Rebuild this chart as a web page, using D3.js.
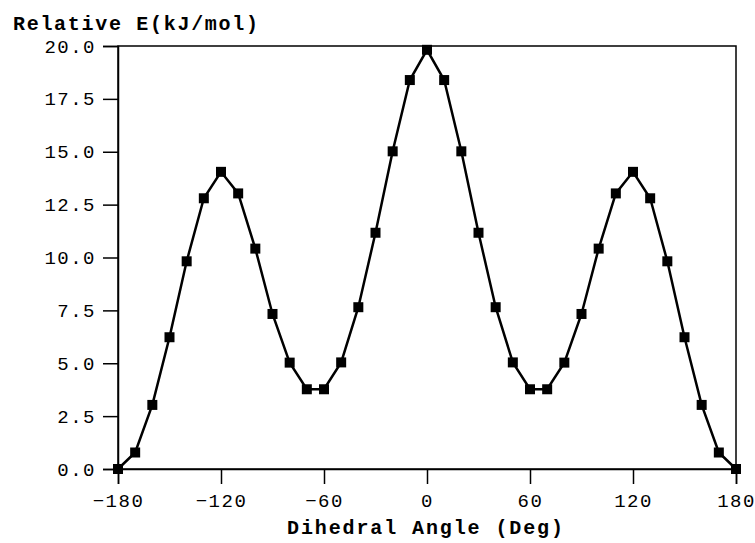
<!DOCTYPE html>
<html><head><meta charset="utf-8">
<script src="https://cdn.jsdelivr.net/npm/d3@7"></script>
<style>
html,body{margin:0;padding:0;background:#fff;}
svg{display:block;}
.tick text{font-family:"Liberation Mono","DejaVu Sans Mono",monospace;font-size:19px;letter-spacing:1.5px;fill:#000;}
</style></head>
<body>
<script>
const angles = [-180,-170,-160,-150,-140,-130,-120,-110,-100,-90,-80,-70,-60,-50,-40,-30,-20,-10,0,10,20,30,40,50,60,70,80,90,100,110,120,130,140,150,160,170,180];
const energies = [0.0,0.78,3.03,6.23,9.82,12.8,14.05,13.03,10.42,7.33,5.03,3.77,3.77,5.04,7.65,11.17,15.02,18.39,19.82,18.39,15.02,11.17,7.65,5.04,3.77,3.77,5.03,7.33,10.42,13.03,14.05,12.8,9.82,6.23,3.03,0.78,0.0];
const xTicks = [-180,-120,-60,0,60,120,180];
const yTicks = [0,2.5,5,7.5,10,12.5,15,17.5,20];
const yTitle = "Relative E(kJ/mol)";
const xTitle = "Dihedral Angle (Deg)";

const W = 755, H = 543;
const m = {left:118, right:19, top:46, bottom:74};
const svg = d3.select("body").append("svg").attr("width",W).attr("height",H);
const x = d3.scaleLinear().domain([-180,180]).range([m.left, W-m.right]);
const y = d3.scaleLinear().domain([0,20]).range([H-m.bottom, m.top]);

// frame
svg.append("rect").attr("x",x(-180)).attr("y",y(20)).attr("width",x(180)-x(-180)).attr("height",y(0)-y(20))
  .attr("fill","none").attr("stroke","#000").attr("stroke-width",1.5);

const gx = svg.append("g").attr("transform",`translate(0,${y(0)})`)
  .call(d3.axisBottom(x).tickValues(xTicks).tickSize(15).tickPadding(10).tickFormat(d=>d<0?"\u2212"+Math.abs(d):String(d)));
const gy = svg.append("g").attr("transform",`translate(${x(-180)},0)`)
  .call(d3.axisLeft(y).tickValues(yTicks).tickSize(15).tickPadding(7).tickFormat(d3.format(".1f")));
[gx,gy].forEach(g=>{
  g.select(".domain").attr("stroke","#000").attr("stroke-width",1.5);
  g.selectAll(".tick line").attr("stroke","#000").attr("stroke-width",1.5);
});

const pts = angles.map((a,i)=>[a,energies[i]]);
svg.append("path").datum(pts)
  .attr("d", d3.line().x(d=>x(d[0])).y(d=>y(d[1])))
  .attr("fill","none").attr("stroke","#000").attr("stroke-width",2.5);
svg.append("g").selectAll("rect").data(pts).join("rect")
  .attr("x",d=>x(d[0])-5).attr("y",d=>y(d[1])-5).attr("width",10).attr("height",10).attr("fill","#000");

svg.append("text").attr("x",13).attr("y",30).text(yTitle)
  .attr("font-family","'Liberation Mono','DejaVu Sans Mono',monospace").attr("font-weight","bold").attr("font-size",20)
  .attr("textLength",245).attr("lengthAdjust","spacing");
svg.append("text").attr("x",(x(-180)+x(180))/2-2).attr("y",534).attr("text-anchor","middle").text(xTitle)
  .attr("font-family","'Liberation Mono','DejaVu Sans Mono',monospace").attr("font-weight","bold").attr("font-size",20)
  .attr("textLength",276).attr("lengthAdjust","spacing");
</script>
</body></html>
